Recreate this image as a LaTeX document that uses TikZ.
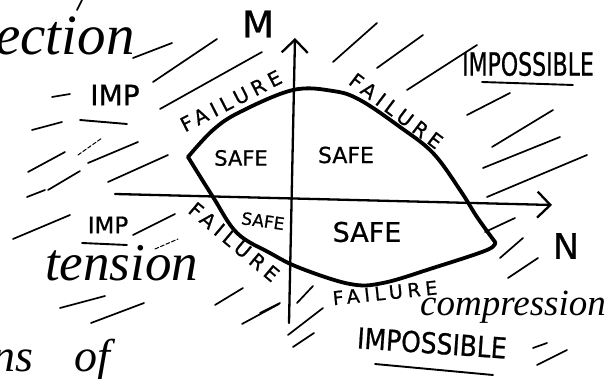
\documentclass[tikz,border=0pt]{standalone}
\usepackage{fontspec}
\usetikzlibrary{arrows.meta}
\newfontfamily\hand[FakeBold=0.8]{DejaVu Sans}
\newfontfamily\handsp[FakeBold=0.8,LetterSpace=25]{DejaVu Sans}
\newfontfamily\scriptf{Liberation Serif}
\tikzset{
  curve/.style={line width=3.8pt, line cap=round, line join=round},
  axis/.style={line width=2.3pt, line cap=round, -{Straight Barb[length=13pt,width=26pt,line width=2.3pt]}},
  hatch/.style={line width=1.7pt, line cap=round},
  faint/.style={line width=1pt, line cap=round, dash pattern=on 4pt off 2pt},
  ulined/.style={line width=1.9pt, line cap=round},
  lab/.style={font=\hand, inner sep=0pt},
  word/.style={font=\scriptf\itshape, inner sep=0pt},
}
\begin{document}
\begin{tikzpicture}[x=1pt,y=-1pt]
\useasboundingbox (0,0) rectangle (611,379);
\clip (0,0) rectangle (611,379);
% axes
\coordinate (Mb) at (289,323);
\coordinate (Mt) at (295,38);
\coordinate (Nl) at (115,194);
\coordinate (Nr) at (552,205);
\draw[axis] (Mb) -- (Mt);
\draw[axis] (Nl) -- (Nr);
\node[lab, font=\hand\fontsize{37}{37}\selectfont] (M) at (258,24) {M};
\node[lab, font=\hand\fontsize{35}{35}\selectfont] (N) at (566,246) {N};
% interaction curve
\coordinate (cl) at (188,157);
\coordinate (cr) at (495,242);
\draw[curve] plot[smooth, tension=0.6] coordinates {(188,157) (213,130) (240,112) (293,90) (333,91) (360,100) (400,127) (433,153) (460,190) (477,217) (495,242)};
\draw[curve] plot[smooth, tension=0.6] coordinates {(495,242) (487,250) (433,268) (383,283) (350,284) (300,268) (270,253) (237,233) (213,197) (188,157)};
% labels on curve
\node[lab, font=\handsp\fontsize{20}{20}\selectfont, rotate=27] (f1) at (231,101) {FAILURE};
\node[lab, font=\handsp\fontsize{20}{20}\selectfont, rotate=-37] (f2) at (396,111) {FAILURE};
\node[lab, font=\handsp\fontsize{20}{20}\selectfont, rotate=-40] (f3) at (234,242) {FAILURE};
\node[lab, font=\handsp\fontsize{19}{19}\selectfont, rotate=6] (f4) at (385,293) {FAILURE};
% safe
\node[lab, font=\hand\fontsize{21}{21}\selectfont] (s1) at (241,158) {SAFE};
\node[lab, font=\hand\fontsize{22}{22}\selectfont] (s2) at (346,155) {SAFE};
\node[lab, font=\hand\fontsize{17}{17}\selectfont, rotate=-8] (s3) at (263,221) {SAFE};
\node[lab, font=\hand\fontsize{27}{27}\selectfont] (s4) at (367,232) {SAFE};
% impossible regions
\node[lab, font=\hand\fontsize{22}{22}\selectfont, yscale=1.45] (i1) at (528,64) {IMPOSSIBLE};
\draw[ulined] (482,82) -- (573,85);
\node[lab, font=\hand\fontsize{25}{25}\selectfont, rotate=-4, yscale=1.15] (i2) at (432,343) {IMPOSSIBLE};
\draw[ulined] (375,364) -- (493,375);
\node[lab, font=\hand\fontsize{28}{28}\selectfont] (i3) at (115,95) {IMP};
\draw[ulined] (80,120) -- (127,124);
\node[lab, font=\hand\fontsize{23}{23}\selectfont] (i4) at (108,225) {IMP};
\draw[ulined] (82,243) -- (127,245);
% words
\node[word, font=\scriptf\itshape\fontsize{57}{57}\selectfont, anchor=base west] (ect) at (-5,55) {ection};
\node[word, font=\scriptf\itshape\fontsize{53}{53}\selectfont, anchor=base west] (ten) at (45,281) {tension};
\node[word, font=\scriptf\itshape\fontsize{37}{37}\selectfont, anchor=base west] (com) at (420,316) {compression};
\node[word, font=\scriptf\itshape\fontsize{46}{46}\selectfont, anchor=base west] (nso) at (-8,372) {ns\hspace{0.9em}of};
% hatching
\foreach \a/\b in {
  {133,58}/{172,43}, {153,82}/{217,39}, {160,109}/{262,52}, {52,97}/{70,94},
  {32,130}/{62,122}, {88,163}/{138,142}, {28,172}/{65,152}, {108,182}/{168,155},
  {48,190}/{80,171}, {77,10}/{82,0}, {333,62}/{377,23}, {377,68}/{423,35},
  {407,90}/{477,45}, {467,115}/{510,93}, {492,147}/{553,110}, {483,168}/{560,137},
  {487,197}/{587,155}, {27,197}/{45,190}, {13,239}/{70,215}, {133,235}/{175,214},
  {60,308}/{105,296}, {91,323}/{144,303}, {215,305}/{243,288}, {242,324}/{279,304},
  {288,335}/{323,308}, {293,347}/{314,333}, {297,303}/{313,286}, {260,313}/{280,303},
  {485,232}/{515,218}, {500,258}/{523,238}, {508,278}/{538,258}, {533,348}/{547,343},
  {537,365}/{567,350}}
  { \draw[hatch] (\a) -- (\b); }
\draw[faint] (78,155) -- (102,138);
\draw[faint] (155,249) -- (178,239);
\end{tikzpicture}
\end{document}
